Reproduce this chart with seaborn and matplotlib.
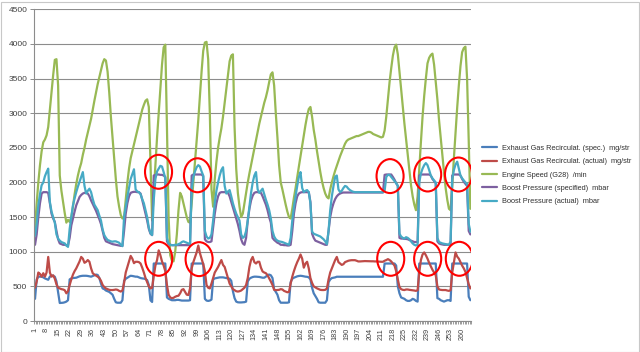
import numpy as np
import pandas as pd
import matplotlib
matplotlib.use("Agg")
import matplotlib.pyplot as plt
import seaborn as sns
from matplotlib.patches import Ellipse, Rectangle

# ---------------- data ----------------
series_names = [
    "Exhaust Gas Recirculat. (spec.)  mg/str",
    "Exhaust Gas Recirculat. (actual)  mg/str",
    "Engine Speed (G28)  /min",
    "Boost Pressure (specified)  mbar",
    "Boost Pressure (actual)  mbar",
]

egr_spec = [
    320, 600, 640, 640, 640, 630, 615, 605, 595, 640,
    660, 650, 640, 570, 420, 260, 262, 264, 270, 280,
    300, 600, 615, 620, 622, 625, 635, 645, 650, 653,
    653, 653, 650, 645, 640, 650, 660, 670, 665, 620,
    540, 470, 460, 440, 430, 420, 400, 380, 320, 270,
    264, 264, 264, 300, 580, 610, 624, 640, 653, 650,
    645, 640, 640, 630, 620, 615, 612, 605, 590, 520,
    300, 275, 830, 830, 830, 830, 830, 830, 830, 830,
    340, 320, 310, 300, 300, 300, 305, 305, 300, 295,
    295, 295, 295, 295, 300, 830, 830, 830, 830, 830,
    830, 830, 830, 320, 295, 290, 295, 310, 600, 615,
    620, 625, 630, 630, 630, 625, 620, 615, 610, 580,
    430, 330, 280, 270, 268, 268, 270, 272, 280, 570,
    610, 625, 635, 640, 640, 638, 636, 630, 625, 625,
    640, 665, 670, 660, 620, 460, 420, 380, 300, 264,
    264, 264, 264, 264, 270, 560, 610, 625, 635, 645,
    650, 653, 650, 645, 640, 638, 630, 600, 480, 400,
    360, 320, 270, 264, 264, 264, 264, 300, 560, 600,
    620, 625, 630, 639, 639, 639, 639, 639, 639, 639,
    639, 639, 639, 639, 639, 639, 639, 639, 639, 639,
    639, 639, 639, 639, 639, 639, 639, 639, 639, 639,
    639, 639, 830, 830, 830, 830, 830, 830, 830, 800,
    500, 400, 340, 330, 320, 300, 290, 290, 300, 320,
    310, 290, 280, 830, 830, 830, 830, 830, 830, 830,
    830, 830, 830, 830, 330, 320, 300, 290, 280, 290,
    300, 300, 290, 830, 830, 830, 830, 830, 830, 830,
    830, 830, 830, 350, 300,
]

egr_actual = [
    480, 570, 700, 680, 640, 690, 640, 700, 925, 700,
    640, 660, 610, 530, 480, 470, 460, 455, 445, 400,
    430, 520, 600, 670, 720, 760, 810, 860, 925, 900,
    840, 855, 880, 855, 760, 690, 670, 655, 640, 620,
    580, 520, 490, 470, 460, 450, 447, 447, 450, 455,
    450, 435, 425, 440, 550, 700, 780, 860, 940, 900,
    835, 855, 855, 850, 830, 770, 700, 620, 560, 500,
    470, 480, 650, 800, 880, 1020, 950, 860, 800, 720,
    520, 380, 340, 330, 335, 350, 360, 365, 400, 450,
    460, 420, 380, 375, 470, 760, 850, 920, 990, 1090,
    980, 900, 820, 720, 520, 480, 470, 540, 620, 700,
    740, 780, 830, 880, 810, 780, 700, 620, 540, 500,
    460, 445, 430, 425, 430, 440, 460, 480, 520, 620,
    780, 880, 925, 850, 830, 855, 855, 770, 715, 700,
    690, 660, 615, 570, 520, 450, 445, 447, 450, 460,
    455, 435, 425, 415, 420, 540, 640, 720, 790, 850,
    900, 960, 900, 770, 830, 855, 760, 620, 550, 500,
    485, 471, 460, 450, 447, 447, 450, 470, 600, 700,
    760, 820, 880, 925, 850, 830, 810, 820, 850, 860,
    870, 875, 878, 878, 878, 870, 860, 860, 862, 865,
    865, 864, 863, 862, 862, 862, 860, 860, 858, 856,
    855, 855, 870, 880, 893, 880, 860, 830, 800, 720,
    600, 490, 460, 450, 447, 455, 455, 450, 447, 445,
    440, 435, 445, 700, 880, 960, 990, 950, 900, 840,
    790, 740, 700, 660, 500, 455, 450, 447, 447, 447,
    440, 435, 445, 700, 850, 990, 930, 900, 850, 800,
    760, 710, 620, 530, 470,
]

engine_speed = [
    1340, 1700, 2000, 2250, 2450, 2580, 2620, 2680, 2800, 3050,
    3300, 3550, 3770, 3780, 3400, 2100, 1880, 1720, 1560, 1420,
    1460, 1430, 1500, 1650, 1830, 1980, 2100, 2200, 2280, 2400,
    2500, 2620, 2720, 2820, 2920, 3050, 3180, 3300, 3420, 3520,
    3620, 3720, 3780, 3760, 3600, 3300, 2950, 2650, 2350, 2050,
    1800, 1650, 1530, 1480, 1500, 1750, 2000, 2200, 2350, 2450,
    2550, 2650, 2750, 2850, 2950, 3050, 3120, 3180, 3200, 3090,
    2300, 1450, 1850, 2250, 2650, 3000, 3350, 3700, 3950, 3990,
    2800, 1500, 950, 870, 860, 1000, 1250, 1600, 1850, 1800,
    1700, 1600, 1500, 1430, 1420, 1700, 2000, 2300, 2600, 2900,
    3250, 3600, 3900, 4020, 4030, 3780, 3000, 1900, 1650, 2050,
    2300, 2500, 2650, 2780, 2950, 3150, 3350, 3550, 3750, 3830,
    3850, 2800, 2200, 1850, 1650, 1500, 1550, 1700, 1850, 2000,
    2130, 2250, 2370, 2490, 2610, 2730, 2850, 2950, 3050, 3150,
    3230, 3330, 3450, 3560, 3590, 3400, 3000, 2650, 2250, 2000,
    1900, 1790, 1680, 1580, 1500, 1480, 1620, 1780, 1920, 2080,
    2230, 2380, 2530, 2680, 2830, 2960, 3060, 3090, 2950, 2760,
    2620, 2450, 2300, 2150, 2020, 1920, 1840, 1790, 1770, 1900,
    2000, 2090, 2170, 2240, 2310, 2380, 2440, 2500, 2560, 2600,
    2620, 2630, 2640, 2650, 2660, 2670, 2670, 2680, 2690, 2700,
    2710, 2720, 2730, 2730, 2720, 2700, 2690, 2680, 2670, 2660,
    2650, 2660, 2750, 2950, 3200, 3450, 3650, 3830, 3950, 3990,
    3850, 3600, 3350, 3100, 2850, 2630, 2400, 2180, 1960, 1800,
    1680, 1600, 1800, 2200, 2580, 2950, 3250, 3500, 3720, 3800,
    3840, 3860, 3700, 3450, 3200, 2900, 2650, 2400, 2150, 1920,
    1750, 1620, 1600, 1950, 2350, 2720, 3080, 3400, 3680, 3880,
    3940, 3960, 3500, 2600, 1620,
]

boost_spec = [
    1100, 1250, 1500, 1700, 1840, 1860, 1860, 1860, 1850, 1700,
    1550, 1480, 1430, 1300, 1180, 1120, 1110, 1100, 1100, 1095,
    1090, 1200, 1380, 1480, 1580, 1670, 1730, 1790, 1820, 1840,
    1850, 1850, 1840, 1800, 1740, 1690, 1640, 1590, 1530, 1470,
    1400, 1300, 1200, 1150, 1140, 1130, 1120, 1110, 1105, 1100,
    1095, 1090, 1085, 1085, 1300, 1550, 1700, 1800, 1850, 1860,
    1865, 1865, 1860, 1860, 1840, 1750, 1650, 1550, 1450, 1330,
    1260, 1240, 2100, 2110, 2115, 2115, 2110, 2110, 2100, 2080,
    1150, 1110, 1100, 1095, 1095, 1095, 1095, 1095, 1095, 1095,
    1095, 1095, 1095, 1095, 1100, 2100, 2115, 2115, 2115, 2115,
    2115, 2115, 2090, 1180, 1150, 1140, 1140, 1150, 1350, 1550,
    1700, 1800, 1850, 1860, 1860, 1860, 1860, 1850, 1800, 1720,
    1640, 1560, 1480, 1400, 1300, 1180, 1120, 1100, 1200, 1450,
    1620, 1740, 1810, 1850, 1860, 1860, 1860, 1850, 1800, 1740,
    1680, 1600, 1500, 1420, 1200, 1170, 1150, 1130, 1120, 1100,
    1100, 1095, 1095, 1090, 1090, 1100, 1300, 1550, 1700, 1800,
    1840, 1855, 1860, 1860, 1860, 1860, 1860, 1720, 1260, 1200,
    1160, 1150, 1140, 1130, 1120, 1110, 1100, 1100, 1300, 1500,
    1620, 1700, 1760, 1800, 1825, 1840, 1850, 1855, 1855, 1855,
    1855, 1855, 1855, 1855, 1855, 1855, 1855, 1855, 1855, 1855,
    1855, 1855, 1855, 1855, 1855, 1855, 1855, 1855, 1855, 1855,
    1855, 1855, 2110, 2115, 2115, 2115, 2115, 2080, 2040, 1990,
    1950, 1200, 1190, 1190, 1185, 1185, 1180, 1170, 1160, 1150,
    1140, 1140, 1140, 2100, 2115, 2115, 2115, 2115, 2115, 2115,
    2100, 2050, 2020, 1990, 1150, 1120, 1110, 1105, 1100, 1100,
    1100, 1100, 1100, 2100, 2115, 2115, 2115, 2115, 2100, 2050,
    2010, 1980, 1950, 1300, 1250,
]

boost_actual = [
    1230, 1400, 1670, 1830, 1960, 2000, 2090, 2150, 2200, 1720,
    1580, 1500, 1420, 1250, 1190, 1160, 1140, 1130, 1120, 1090,
    1070, 1330, 1500, 1670, 1770, 1860, 1940, 2010, 2080, 2150,
    1950, 1840, 1880, 1910, 1860, 1760, 1680, 1640, 1600, 1520,
    1450, 1320, 1240, 1200, 1170, 1160, 1150, 1145, 1150, 1150,
    1140, 1130, 1100, 1080, 1500, 1650, 1790, 1920, 2050, 2120,
    2190, 1900, 1870, 1860, 1830, 1760, 1700, 1600, 1500, 1350,
    1270, 1240, 1750, 2050, 2160, 2200, 2240, 2230, 2150, 2060,
    1200, 1120, 1100, 1095, 1095, 1100, 1100, 1110, 1120, 1140,
    1150, 1140, 1130, 1120, 1110, 1900, 2080, 2160, 2220, 2250,
    2230, 2160, 2100, 1300, 1220, 1190, 1200, 1250, 1450, 1700,
    1880, 2000, 2100, 2180, 2220, 1950, 1840, 1870, 1890, 1800,
    1700, 1620, 1550, 1500, 1450, 1250, 1200, 1220, 1300, 1450,
    1650, 1850, 2000, 2100, 2150, 1900, 1850, 1880, 1910, 1830,
    1750, 1680, 1600, 1480, 1300, 1220, 1180, 1160, 1150, 1145,
    1140, 1130, 1120, 1110, 1100, 1200, 1450, 1650, 1800, 1950,
    2080, 2150, 1920, 1860, 1880, 1890, 1860, 1700, 1290, 1260,
    1250, 1240, 1230, 1220, 1200, 1180, 1150, 1110, 1300, 1600,
    1800, 1950, 2080, 2100, 1900, 1860, 1880, 1920, 1950, 1940,
    1910, 1890, 1875, 1865, 1860, 1860, 1860, 1860, 1860, 1860,
    1860, 1860, 1860, 1860, 1860, 1860, 1860, 1860, 1860, 1860,
    1860, 1860, 1880, 2080, 2110, 2110, 2080, 2050, 2020, 1990,
    1950, 1260, 1220, 1200, 1190, 1210, 1200, 1180, 1150, 1120,
    1100, 1090, 1100, 2000, 2130, 2200, 2250, 2280, 2250, 2180,
    2100, 2060, 2030, 2000, 1200, 1140, 1130, 1120, 1115, 1110,
    1105, 1100, 1150, 2050, 2180, 2260, 2300, 2200, 2100, 2060,
    2030, 2000, 1980, 1400, 1290,
]

x_tick_labels = [str(v) for v in range(1, 261, 7)]
y_ticks = list(range(0, 4501, 500))

# annotation ellipses (category index, value)
circle_x = [75.9, 99.5, 216.3, 239.1, 257.8, 76.0, 100.5, 216.7, 239.1, 258.3]
circle_y = [2154, 2104, 2092, 2115, 2115, 898, 893, 898, 898, 898]

# ---------------- figure ----------------
colors = ["#4A7EBB", "#BE4B48", "#98B954", "#7D60A0", "#46AAC5"]

sns.set_theme(style="white")
plt.rcParams["font.family"] = ["Liberation Sans", "DejaVu Sans"]

W, H = 640, 352
fig = plt.figure(figsize=(W / 100, H / 100), dpi=100)
ax = fig.add_axes([34.2 / W, 1 - 321 / H, (471.2 - 34.2) / W, (321 - 9.3) / H])

all_series = [egr_spec, egr_actual, engine_speed, boost_spec, boost_actual]
n = len(engine_speed)
idx = np.arange(1, n + 1)
df = pd.DataFrame({
    "idx": np.tile(idx, len(all_series)),
    "value": np.concatenate([np.asarray(s, dtype=float) for s in all_series]),
    "series": np.repeat(series_names, n),
})
palette = dict(zip(series_names, colors))
sns.lineplot(data=df, x="idx", y="value", hue="series", hue_order=series_names,
             palette=palette, linewidth=1.6, sort=False, estimator=None,
             legend=False, ax=ax)
for ln in ax.lines:
    ln.set_solid_joinstyle("round")

ax.set_xlim(0.5, n + 0.5)
ax.set_ylim(0, 4500)
ax.set_xlabel("")
ax.set_ylabel("")

grid_c = "#8C8C8C"
ax.set_yticks(y_ticks)
ax.set_yticklabels([str(v) for v in y_ticks], fontsize=6, color="#404040")
ax.yaxis.grid(True, color=grid_c, linewidth=0.8)
ax.xaxis.grid(False)
ax.set_axisbelow(True)

ax.set_xticks(list(range(1, 261, 7)))
ax.set_xticklabels(x_tick_labels, rotation=90, fontsize=5.2, color="#404040")
ax.set_xticks(np.arange(0.5, n + 1, 1.0), minor=True)
ax.tick_params(axis="x", which="major", length=0, pad=5)
ax.tick_params(axis="x", which="minor", length=2.5, width=0.6, color=grid_c, direction="out", bottom=True)
ax.tick_params(axis="y", which="major", length=3, width=0.7, color=grid_c, direction="out", left=True, pad=2)

for s in ["top", "right"]:
    ax.spines[s].set_visible(False)
for s in ["left", "bottom"]:
    ax.spines[s].set_color(grid_c)
    ax.spines[s].set_linewidth(0.8)

# red annotation ellipses
for cx, cy in zip(circle_x, circle_y):
    ax.add_patch(Ellipse((cx, cy), width=16.4, height=490, fill=False,
                         edgecolor="#FF0000", linewidth=1.5, zorder=10))

# legend
leg = ax.legend(ax.lines, series_names, loc="center left",
                bbox_to_anchor=(482 / W, 1 - 175 / H), bbox_transform=fig.transFigure,
                frameon=False, fontsize=5.3, handlelength=2.1, handletextpad=0.55,
                labelspacing=0.85, borderpad=0, borderaxespad=0)
for t in leg.get_texts():
    t.set_color("#303030")

# chart border
fig.patches.append(Rectangle((0.5 / W, 0.5 / H), (W - 2) / W, (H - 2) / H,
                             transform=fig.transFigure, fill=False,
                             edgecolor="#C8C8C8", linewidth=0.8))

fig.savefig("out.png", dpi=100)
